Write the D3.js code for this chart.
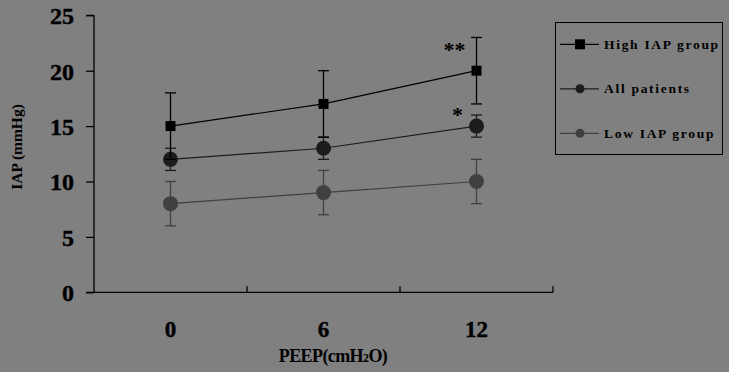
<!DOCTYPE html>
<html><head><meta charset="utf-8">
<script src="https://cdn.jsdelivr.net/npm/d3@7"></script>
<style>body{margin:0;background:#808080;}svg{display:block;}</style>
</head><body>
<svg id="c" width="729" height="372"></svg>
<script>
const categories = ["0", "6", "12"];
const highIAP = [15, 17, 20];
const highSD = [3, 3, 3];
const allPatients = [12, 13, 15];
const allSD = [1, 1, 1];
const lowIAP = [8, 9, 10];
const lowSD = [2, 2, 2];
const yTicks = [0, 5, 10, 15, 20, 25];
const seriesNames = ["High IAP group", "All patients", "Low IAP group"];
const stars = [null, null, "**"];
const starsAll = [null, null, "*"];

const svg = d3.select("#c");
svg.append("rect").attr("width",729).attr("height",372).attr("fill","#808080");
const L = 94, R = 553, T = 15.3, B = 292.3;
const x = d3.scaleBand().domain(categories).range([L, R]);
const y = d3.scaleLinear().domain([0, 25]).range([B, T]);
const font = "'Liberation Serif','Times New Roman',serif";

// y axis
const ya = svg.append("g").attr("transform",`translate(${L},0)`)
  .call(d3.axisLeft(y).tickValues(yTicks).tickSize(8).tickPadding(12));
ya.select(".domain").attr("stroke","#000").attr("stroke-width",1.3).attr("d",`M0,${B}V${T}M-8,${T}H0`);
ya.selectAll(".tick line").attr("stroke","#000").attr("stroke-width",1.3);
ya.selectAll(".tick text").attr("fill","#000").attr("font-family",font).attr("font-weight","bold").attr("font-size",24).attr("dy","0.35em").attr("stroke","#000").attr("stroke-width",0.4);

// x axis
const xa = svg.append("g").attr("transform",`translate(0,${B})`);
xa.append("line").attr("x1",L-8).attr("x2",R).attr("y1",0).attr("y2",0).attr("stroke","#000").attr("stroke-width",1.3);
const bounds = categories.map((c,i)=>x(c)+x.bandwidth());
xa.selectAll("line.tk").data(bounds).join("line").attr("class","tk")
  .attr("x1",d=>d).attr("x2",d=>d).attr("y1",0).attr("y2",-6).attr("stroke","#000").attr("stroke-width",1.3);
xa.selectAll("text").data(categories).join("text")
  .attr("x",d=>x(d)+x.bandwidth()/2).attr("y",45).attr("text-anchor","middle")
  .attr("font-family",font).attr("font-weight","bold").attr("font-size",23).attr("fill","#000").attr("stroke","#000").attr("stroke-width",0.4).text(d=>d);

// titles
const xt = svg.append("text").attr("x",333).attr("y",362).attr("text-anchor","middle")
  .attr("font-family",font).attr("font-weight","bold").attr("font-size",18).attr("letter-spacing",-0.6).attr("fill","#000");
xt.append("tspan").text("PEEP(cmH");
xt.append("tspan").attr("font-size",12).text("2");
xt.append("tspan").text("O)");
svg.append("text").attr("transform","translate(22,147) rotate(-90)").attr("text-anchor","middle")
  .attr("font-family",font).attr("font-weight","bold").attr("font-size",15.5).attr("fill","#000").text("IAP (mmHg)");

const cx = c => x(c) + x.bandwidth()/2;
const series = [
  {name:seriesNames[2], vals:lowIAP, sd:lowSD, color:"#404040", shape:"circle"},
  {name:seriesNames[1], vals:allPatients, sd:allSD, color:"#1c1c1c", shape:"circle"},
  {name:seriesNames[0], vals:highIAP, sd:highSD, color:"#000", shape:"square"}
];
const line = d3.line().x((d,i)=>cx(categories[i])).y(d=>y(d));
series.forEach(s=>{
  const g = svg.append("g");
  s.vals.forEach((v,i)=>{
    const px = cx(categories[i]);
    g.append("line").attr("x1",px).attr("x2",px).attr("y1",y(v-s.sd[i])).attr("y2",y(v+s.sd[i])).attr("stroke",s.color).attr("stroke-width",1.3);
    [v-s.sd[i], v+s.sd[i]].forEach(e=>{
      g.append("line").attr("x1",px-5.5).attr("x2",px+5.5).attr("y1",y(e)).attr("y2",y(e)).attr("stroke",s.color).attr("stroke-width",1.3);
    });
  });
  g.append("path").attr("d",line(s.vals)).attr("fill","none").attr("stroke",s.color).attr("stroke-width",1.2);
  s.vals.forEach((v,i)=>{
    const px = cx(categories[i]);
    if(s.shape==="circle") g.append("circle").attr("cx",px).attr("cy",y(v)).attr("r",7.5).attr("fill",s.color);
    else g.append("rect").attr("x",px-5).attr("y",y(v)-5).attr("width",10).attr("height",10).attr("fill",s.color);
  });
});
// significance stars
stars.forEach((s,i)=>{ if(s) svg.append("text").attr("x",cx(categories[i])-22).attr("y",y(highIAP[i])-14).attr("text-anchor","middle")
  .attr("font-family",font).attr("font-weight","bold").attr("font-size",22).attr("fill","#000").text(s); });
starsAll.forEach((s,i)=>{ if(s) svg.append("text").attr("x",cx(categories[i])-19).attr("y",y(allPatients[i])-4).attr("text-anchor","middle")
  .attr("font-family",font).attr("font-weight","bold").attr("font-size",22).attr("fill","#000").text(s); });

// legend
const lg = svg.append("g");
lg.append("rect").attr("x",555.5).attr("y",22.5).attr("width",167).attr("height",132).attr("fill","none").attr("stroke","#000").attr("stroke-width",1);
const legItems = [series[2], series[1], series[0]];
legItems.forEach((s,i)=>{
  const ly = 44.3 + i*44.5;
  lg.append("line").attr("x1",560).attr("x2",599).attr("y1",ly).attr("y2",ly).attr("stroke",s.color).attr("stroke-width",1.2);
  if(s.shape==="circle") lg.append("circle").attr("cx",580).attr("cy",ly).attr("r",4.5).attr("fill",s.color);
  else lg.append("rect").attr("x",575).attr("y",ly-5).attr("width",10).attr("height",10).attr("fill",s.color);
  lg.append("text").attr("x",604).attr("y",ly+4.5).attr("font-family",font).attr("font-weight","bold")
    .attr("font-size",13.5).attr("letter-spacing",1.7).attr("fill","#000").text(s.name);
});
</script>
</body></html>
